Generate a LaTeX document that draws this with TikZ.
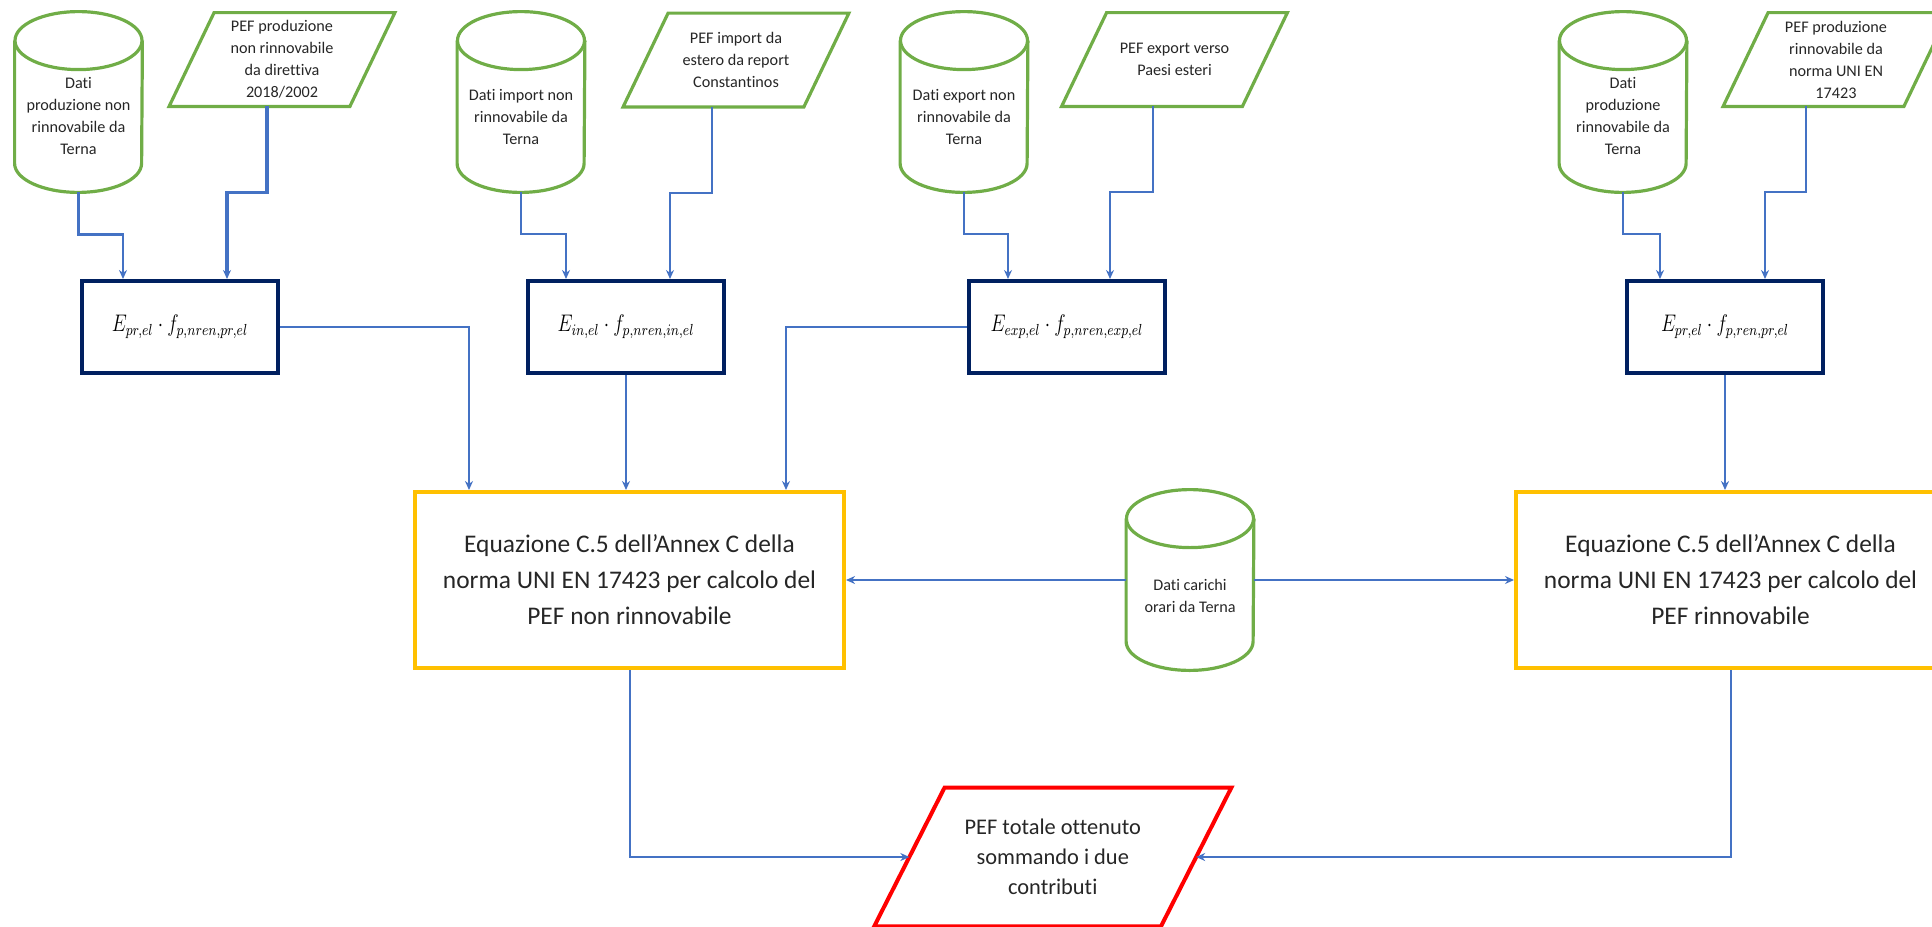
\documentclass[tikz,border=0pt]{standalone}
\usepackage{fontspec}
\usepackage{graphicx}
\setmainfont{Carlito}[Ligatures=NoCommon]
\usetikzlibrary{calc,arrows.meta}
\definecolor{cgreen}{RGB}{112,173,71}
\definecolor{cblue}{RGB}{68,114,196}
\definecolor{cnavy}{RGB}{0,32,96}
\definecolor{cyellow}{RGB}{255,192,0}
\definecolor{cred}{RGB}{255,0,0}
\definecolor{ctext}{RGB}{38,38,38}
\newcommand\cylshape[1]{%
  \draw[cylline] ($(#1.north west)+(0pt,-14.5pt)$) -- ($(#1.south west)+(0pt,14.5pt)$)
     arc[start angle=180,end angle=360,x radius=31.75pt,y radius=14.5pt]
     -- ($(#1.north east)+(0pt,-14.5pt)$);
  \draw[cylline] ($(#1.north)+(0pt,-14.5pt)$) ellipse[x radius=31.75pt,y radius=14.5pt];}
\newcommand\parashape[3]{%
  \draw[#3] ($(#1.north west)+(#2,0pt)$) -- ($(#1.north east)+(#2,0pt)$)
     -- ($(#1.south east)-(#2,0pt)$) -- ($(#1.south west)-(#2,0pt)$) -- cycle;}
\newcommand\fml[1]{\scalebox{0.8}[1]{$#1$}}
\begin{document}
\begin{tikzpicture}[x=0.5pt,y=-0.5pt,
  cylbox/.style={minimum width=63.5pt,minimum height=90pt,inner sep=0pt,draw=none},
  cylline/.style={draw=cgreen,line width=1.6pt},
  stxt/.style={font=\fontsize{8.1pt}{11pt}\selectfont,align=center,text=ctext,inner sep=0pt},
  parabox/.style={stxt,minimum width=90pt,minimum height=46.5pt},
  paraline/.style={draw=cgreen,line width=1.6pt,line join=miter},
  mathbox/.style={draw=cnavy,line width=2pt,minimum width=98pt,minimum height=46pt,inner sep=0pt,font=\fontsize{11.5pt}{13pt}\selectfont},
  eqbox/.style={draw=cyellow,line width=2pt,minimum width=214.5pt,minimum height=88pt,inner sep=0pt,align=center,font=\fontsize{12.7pt}{18pt}\selectfont,text=ctext},
  redbox/.style={minimum width=143pt,minimum height=69pt,inner sep=0pt,align=center,font=\fontsize{11.2pt}{15pt}\selectfont,text=ctext},
  redline/.style={draw=cred,line width=2pt,line join=miter},
  conn/.style={draw=cblue,line width=1pt,-{Stealth[length=4.5pt,width=4pt]}},
  connthick/.style={conn,line width=1.8pt},
  connmid/.style={conn,line width=1.3pt}]
\useasboundingbox (0,0) rectangle (1932,926);
\clip (0,0) rectangle (1932,926);

% cylinders
\node[cylbox] (c1) at (78.5,102) {};
\cylshape{c1}
\node[stxt] (c1t) at (78.5,116) {Dati\\produzione non\\rinnovabile da\\Terna};
\node[cylbox] (c2) at (521,102) {};
\cylshape{c2}
\node[stxt] (c2t) at (521,117) {Dati import non\\rinnovabile da\\Terna};
\node[cylbox] (c3) at (964,102) {};
\cylshape{c3}
\node[stxt] (c3t) at (964,117) {Dati export non\\rinnovabile da\\Terna};
\node[cylbox] (c4) at (1623,102) {};
\cylshape{c4}
\node[stxt] (c4t) at (1623,116) {Dati\\produzione\\rinnovabile da\\Terna};
\node[cylbox] (c5) at (1190,580) {};
\cylshape{c5}
\node[stxt] (c5t) at (1190,596) {Dati carichi\\orari da Terna};

% parallelograms
\node[parabox] (p1) at (282,59.5) {PEF produzione\\non rinnovabile\\da direttiva\\2018/2002};
\parashape{p1}{11.25pt}{paraline}
\node[parabox] (p2) at (736,60) {PEF import da\\estero da report\\Constantinos};
\parashape{p2}{11.25pt}{paraline}
\node[parabox] (p3) at (1174.5,59.5) {PEF export verso\\Paesi esteri};
\parashape{p3}{11.25pt}{paraline}
\node[parabox] (p4) at (1836,59.5) {PEF produzione\\rinnovabile da\\norma UNI EN\\17423};
\parashape{p4}{11.25pt}{paraline}

% formula boxes
\node[mathbox] (b1) at (180,327) {\fml{E_{pr,el}\cdot f_{p,nren,pr,el}}};
\node[mathbox] (b2) at (626,327) {\fml{E_{in,el}\cdot f_{p,nren,in,el}}};
\node[mathbox] (b3) at (1067,327) {\fml{E_{exp,el}\cdot f_{p,nren,exp,el}}};
\node[mathbox] (b4) at (1725,327) {\fml{E_{pr,el}\cdot f_{p,ren,pr,el}}};

% equation boxes
\node[eqbox] (y1) at (629.5,580) {Equazione C.5 dell’Annex C della\\norma UNI EN 17423 per calcolo del\\PEF non rinnovabile};
\node[eqbox] (y2) at (1730.5,580) {Equazione C.5 dell’Annex C della\\norma UNI EN 17423 per calcolo del\\PEF rinnovabile};

% result
\node[redbox] (r) at (1052.75,857) {PEF totale ottenuto\\sommando i due\\contributi};
\parashape{r}{17.6pt}{redline}

% connectors
\draw[connmid] (c1.south) -- ++(0,42) -| ([xshift=-28.5pt]b1.north);
\draw[connthick] ([xshift=-7.5pt]p1.south) -- ++(0,86) -| ([xshift=23.5pt]b1.north);
\draw[conn] (c2.south) -- ++(0,42) -| ([xshift=-30pt]b2.north);
\draw[conn] ([xshift=-12pt]p2.south) -- ++(0,86) -| ([xshift=22pt]b2.north);
\draw[conn] (c3.south) -- ++(0,42) -| ([xshift=-29.5pt]b3.north);
\draw[conn] ([xshift=-10.75pt]p3.south) -- ++(0,86) -| ([xshift=21.5pt]b3.north);
\draw[conn] (c4.south) -- ++(0,42) -| ([xshift=-32.5pt]b4.north);
\draw[conn] ([xshift=-15pt]p4.south) -- ++(0,86) -| ([xshift=20pt]b4.north);

\draw[conn] (b1.east) -| ([xshift=-80.25pt]y1.north);
\draw[conn] (b2.south) -- (b2.south |- y1.north);
\draw[conn] (b3.west) -| ([xshift=78.25pt]y1.north);
\draw[conn] (b4.south) -- (b4.south |- y2.north);

\draw[conn] (c5.west) -- (y1.east);
\draw[conn] (c5.east) -- (y2.west);

\draw[conn] (y1.south) |- (r.west);
\draw[conn] (y2.south) |- (r.east);
\end{tikzpicture}
\end{document}
